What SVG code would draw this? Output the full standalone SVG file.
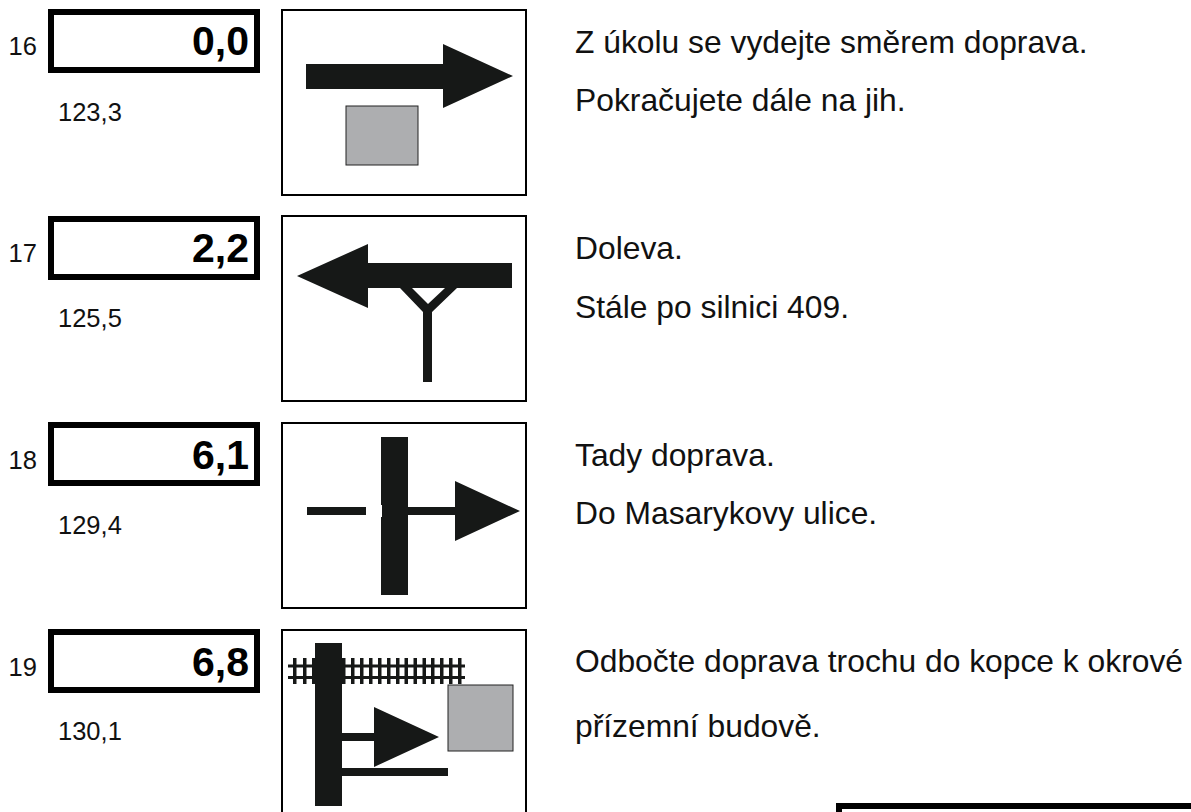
<svg xmlns="http://www.w3.org/2000/svg" width="1191" height="812" viewBox="0 0 1191 812">
<style>
text{font-family:"Liberation Sans",Arial,sans-serif;fill:#111}
.n{font-size:25.5px}
.d{font-size:41px;font-weight:bold;text-anchor:end;fill:#000}
.t{font-size:31.8px}
.box{fill:#fff;stroke:#000;stroke-width:6}
.frame{fill:#fff;stroke:#000;stroke-width:2}
.s{fill:#161817}
.g{fill:#adaeb0;stroke:#222;stroke-width:1}
</style>
<rect width="1191" height="812" fill="#fff"/>
<g id="row16">
<text class="n" x="8.5" y="55">16</text>
<rect class="box" x="51" y="12" width="206" height="58"/>
<text class="d" x="249" y="55">0,0</text>
<text class="n" x="58" y="120.7">123,3</text>
<rect class="frame" x="282" y="10" width="244" height="185"/>
<path class="s" d="M306 64H443V44L513 76L443 108V89H306Z"/>
<rect class="g" x="346" y="106" width="72" height="59"/>
<text class="t" x="575" y="52.5">Z úkolu se vydejte směrem doprava.</text>
<text class="t" x="575" y="110.5">Pokračujete dále na jih.</text>
</g>
<g id="row17">
<text class="n" x="8.5" y="262">17</text>
<rect class="box" x="51" y="219" width="206" height="58"/>
<text class="d" x="249" y="262">2,2</text>
<text class="n" x="58" y="327">125,5</text>
<rect class="frame" x="282" y="216" width="244" height="185"/>
<path class="s" d="M297 276L368 244V263H512V288H457L432 312V382H423V312L400 288H368V308ZM412 288L428 304L445 288Z" fill-rule="evenodd"/>
<text class="t" x="575" y="259">Doleva.</text>
<text class="t" x="575" y="317.5">Stále po silnici 409.</text>
</g>
<g id="row18">
<text class="n" x="8.5" y="469">18</text>
<rect class="box" x="51" y="425" width="206" height="58"/>
<text class="d" x="249" y="469">6,1</text>
<text class="n" x="58" y="534">129,4</text>
<rect class="frame" x="282" y="423" width="244" height="185"/>
<rect class="s" x="381" y="437" width="27" height="158"/>
<rect x="381" y="505" width="1" height="12" fill="#fff"/>
<path class="s" d="M307 507H366V515H307ZM408 507H455V481L520 511L455 541V515H408Z"/>
<text class="t" x="575" y="466">Tady doprava.</text>
<text class="t" x="575" y="524">Do Masarykovy ulice.</text>
</g>
<g id="row19">
<text class="n" x="8.5" y="676">19</text>
<rect class="box" x="51" y="632" width="206" height="58"/>
<text class="d" x="249" y="676">6,8</text>
<text class="n" x="58" y="740">130,1</text>
<rect class="frame" x="282" y="630" width="244" height="190"/>
<g class="s">
<rect x="288" y="664.5" width="177" height="3"/>
<rect x="288" y="676" width="177" height="3"/>
<path d="M293 658h3.5v26h-3.5zM303 658h3.5v26h-3.5zM312 658h3.5v26h-3.5zM342 658h3.5v26h-3.5zM351 658h3.5v26h-3.5zM360 658h3.5v26h-3.5zM369 658h3.5v26h-3.5zM378 658h3.5v26h-3.5zM387 658h3.5v26h-3.5zM396 658h3.5v26h-3.5zM404.5 658h3.5v26h-3.5zM413.5 658h3.5v26h-3.5zM422.5 658h3.5v26h-3.5zM431 658h3.5v26h-3.5zM440 658h3.5v26h-3.5zM449 658h3.5v26h-3.5zM458 658h3.5v26h-3.5z"/>
</g>
<rect class="s" x="315" y="643" width="27" height="163"/>
<path class="s" d="M342 733H374V707L439 737L374 767V741H342ZM342 768H448V776H342Z"/>
<rect class="g" x="448" y="685" width="65" height="66"/>
<text class="t" x="575" y="671.5">Odbočte doprava trochu do kopce k okrové</text>
<text class="t" x="575" y="736.5">přízemní budově.</text>
</g>
<rect id="next-box" x="839" y="806" width="360" height="40" class="box"/>
</svg>
